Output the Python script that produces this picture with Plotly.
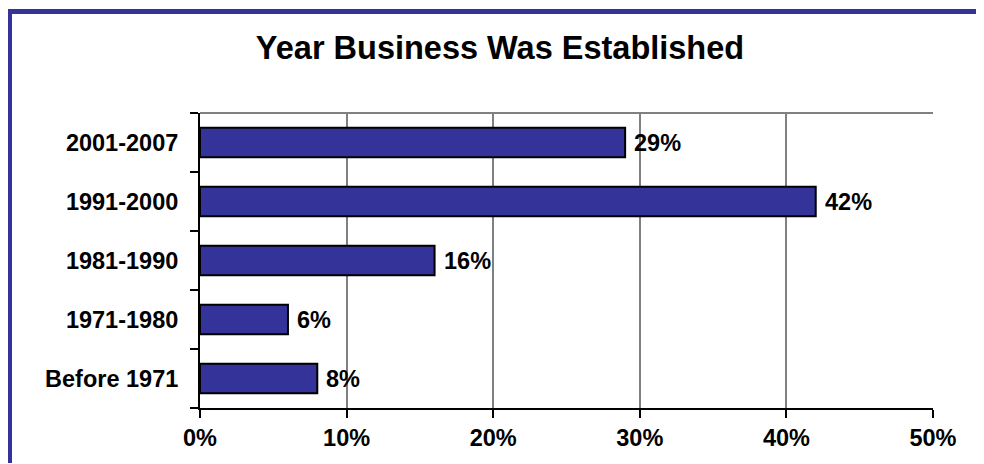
import plotly.graph_objects as go

categories = ["Before 1971", "1971-1980", "1981-1990", "1991-2000", "2001-2007"]
values = [8, 6, 16, 42, 29]
x_ticks = [0, 10, 20, 30, 40, 50]
x_tick_labels = ["0%", "10%", "20%", "30%", "40%", "50%"]
title_text = "Year Business Was Established"

W, H = 984, 464
OFF = 8  # browser default body margin shifts the figure by this much
L, T = 200 - OFF, 113 - OFF
pw, ph = 733, 295
R, B = W - L - pw, H - T - ph

FONT = "Liberation Sans, Arial, sans-serif"
NAVY = "#333399"
FS = 23.5

fig = go.Figure()
fig.add_trace(go.Bar(
    y=categories, x=values, orientation="h",
    marker=dict(color=NAVY, line=dict(color="black", width=2)),
    hoverinfo="skip",
))

for c, v in zip(categories, values):
    fig.add_annotation(
        x=v, y=c, text=f"{v}%", showarrow=False,
        xanchor="left", yanchor="middle", xshift=7,
        font=dict(family=FONT, size=FS, color="black", weight="bold"),
    )

def px_x(p):  # page pixel -> paper x
    return (p - OFF - L) / pw

def px_y(p):  # page pixel -> paper y
    return (T + ph - (p - OFF)) / ph

# gray top border of the plot area
fig.add_shape(type="line", xref="paper", yref="paper", x0=0, x1=1, y0=1, y1=1,
              line=dict(color="#808080", width=2), layer="below")

# outer frame: only the left and top edges are visible in the cropped picture
fig.add_shape(type="line", xref="paper", yref="paper",
              x0=px_x(7), x1=px_x(W - 1), y0=px_y(11.5), y1=px_y(11.5),
              line=dict(color=NAVY, width=5), layer="above")
fig.add_shape(type="line", xref="paper", yref="paper",
              x0=px_x(9.5), x1=px_x(9.5), y0=px_y(9), y1=px_y(H - 1),
              line=dict(color=NAVY, width=5), layer="above")

fig.update_layout(
    width=W, height=H,
    margin=dict(l=L, r=R, t=T, b=B, autoexpand=False),
    paper_bgcolor="white", plot_bgcolor="white",
    bargap=0.5, showlegend=False,
    title=dict(text=title_text, x=(500 - OFF) / W, xanchor="center", xref="container",
               yref="container", y=1 - (48 - OFF) / H, yanchor="middle",
               font=dict(family=FONT, size=32.5, color="black", weight="bold")),
    font=dict(family=FONT, color="black"),
)
fig.update_xaxes(
    range=[0, 50], tickvals=x_ticks, ticktext=x_tick_labels,
    showgrid=True, gridcolor="#808080", gridwidth=2,
    showline=True, linecolor="black", linewidth=2,
    ticks="outside", ticklen=8, tickwidth=2, tickcolor="black",
    tickfont=dict(family=FONT, size=FS, color="black", weight="bold"),
    zeroline=False, fixedrange=True,
)
fig.update_yaxes(
    type="category", categoryorder="array", categoryarray=categories,
    showgrid=False, showline=True, linecolor="black", linewidth=2,
    ticks="outside", ticklen=8, tickwidth=2, tickcolor="black",
    tickson="boundaries", ticklabelstandoff=15,
    tickfont=dict(family=FONT, size=FS, color="black", weight="bold"),
    fixedrange=True,
)

fig.write_html("out.html")
